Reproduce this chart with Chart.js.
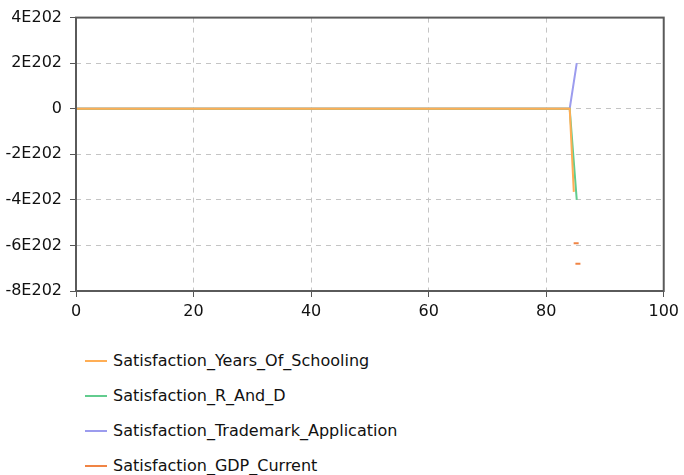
<!DOCTYPE html>
<html>
<head>
<meta charset="utf-8">
<script src="https://cdn.jsdelivr.net/npm/chart.js@4"></script>
<style>
  html, body { margin: 0; padding: 0; background: #fff; }
  #wrap { position: relative; width: 684px; height: 475px; }
  #satChart { position: absolute; left: 0; top: 0; }
  #legend { position: absolute; left: 0; top: 343px; font: 16px "DejaVu Sans", sans-serif; color: #111; }
  .row { height: 35px; display: flex; align-items: center; }
  .swatch { width: 22px; height: 2px; margin-left: 85px; margin-right: 6px; }
</style>
</head>
<body>
<div id="wrap">
  <canvas id="satChart" width="684" height="330"></canvas>
  <div id="legend"></div>
</div>
<script>
// séries (temps -> valeur)
const seriesNames = [
  'Satisfaction_Years_Of_Schooling',
  'Satisfaction_R_And_D',
  'Satisfaction_Trademark_Application',
  'Satisfaction_GDP_Current',
];
const seriesColors = ['#ffae55', '#62cc8e', '#9c9cee', '#f08444'];

const schoolingT = [0, 84, 84.7];
const schoolingV = [0, 0, -3.65e202];
const rAndDT = [0, 84, 85.2];
const rAndDV = [0, 0, -4.0e202];
const trademarkT = [0, 84, 85.2];
const trademarkV = [0, 0, 2.0e202];
// GDP : trous dans la série, deux points isolés
const gdpT = [0, 84, 84.5, 85.1, 85.25, 85.4];
const gdpV = [0, 0, null, -5.9e202, null, -6.8e202];

const xTicks = [0, 20, 40, 60, 80, 100];
const yTicks = [-8e202, -6e202, -4e202, -2e202, 0, 2e202, 4e202];

const pts = (t, v) => t.map((x, i) => ({ x, y: v[i] }));
const GRID = { color: '#c4c4c4', tickColor: '#555', tickLength: 6 };
const BORDER = { display: false, dash: [5, 5] };
const FONT = { family: '"DejaVu Sans", sans-serif', size: 16 };

const frame = {
  id: 'frame',
  afterDraw(chart) {
    const { ctx, chartArea: a } = chart;
    ctx.save();
    ctx.strokeStyle = '#5a5a5a';
    ctx.lineWidth = 2;
    ctx.strokeRect(a.left, a.top, a.right - a.left, a.bottom - a.top);
    ctx.restore();
  },
};

const allData = [
  pts(schoolingT, schoolingV),
  pts(rAndDT, rAndDV),
  pts(trademarkT, trademarkV),
  pts(gdpT, gdpV),
];

new Chart(document.getElementById('satChart'), {
  type: 'line',
  data: {
    datasets: allData.map((d, k) => ({
      label: seriesNames[k],
      data: d,
      borderColor: seriesColors[k],
      backgroundColor: seriesColors[k],
      borderWidth: 2,
      tension: 0,
      spanGaps: false,
      pointStyle: 'line',
      pointBorderWidth: 2,
      pointRadius: ctx => (d[ctx.dataIndex - 1] && d[ctx.dataIndex - 1].y === null ? 2.5 : 0),
    })),
  },
  options: {
    responsive: false, animation: false,
    layout: { padding: { top: 13, right: 19, left: 0, bottom: 0 } },
    plugins: { legend: { display: false }, tooltip: { enabled: false } },
    scales: {
      x: {
        type: 'linear', min: 0, max: 100,
        grid: GRID, border: BORDER,
        afterBuildTicks: s => { s.ticks = xTicks.map(value => ({ value })); },
        afterFit: s => { s.height = 39; },
        ticks: { color: '#111', font: FONT, padding: 5, maxRotation: 0 },
      },
      y: {
        type: 'linear', min: -8e202, max: 4e202,
        grid: GRID, border: BORDER,
        afterBuildTicks: s => { s.ticks = yTicks.map(value => ({ value })); },
        afterFit: s => { s.width = 76; },
        ticks: {
          color: '#111', font: FONT, padding: 8,
          callback: v => (v === 0 ? '0' : Math.round(v / 1e202) + 'E202'),
        },
      },
    },
  },
  plugins: [frame],
});

// légende verticale sous le graphique
const legend = document.getElementById('legend');
seriesNames.forEach((name, k) => {
  const row = document.createElement('div');
  row.className = 'row';
  row.innerHTML = `<span class="swatch" style="background:${seriesColors[k]}"></span><span>${name}</span>`;
  legend.appendChild(row);
});
</script>
</body>
</html>
